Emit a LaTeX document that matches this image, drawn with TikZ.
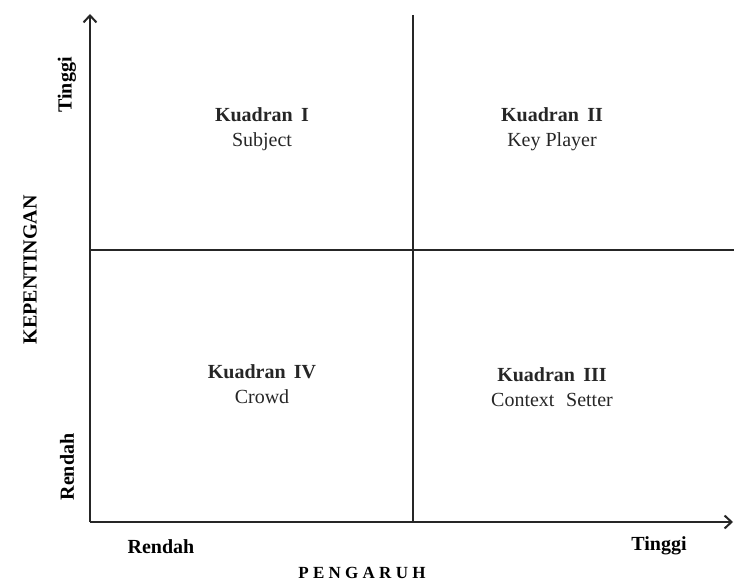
\documentclass[tikz,border=0pt]{standalone}
\usepackage{fontspec}
\setmainfont{Liberation Serif}
\usetikzlibrary{arrows.meta}
\tikzset{
  axis/.style={draw=black!85, line width=2.2pt, -{Straight Barb[length=7pt,width=13pt,line width=2pt]}},
  divider/.style={draw=black!85, line width=2.2pt},
  lbl/.style={font=\fontsize{20}{22}\selectfont\bfseries, inner sep=0pt},
  quad/.style={align=center, font=\fontsize{20}{25}\selectfont, text=black!85, inner sep=0pt}
}
\begin{document}
\begin{tikzpicture}[x=1pt,y=-1pt]
\useasboundingbox (0,0) rectangle (734,583);
\coordinate (O) at (90,522);
\coordinate (ytop) at (90,14);
\coordinate (xend) at (733,522);
\coordinate (vtop) at (413,15);
\coordinate (vbot) at (413,522);
\coordinate (hl) at (90,250);
\coordinate (hr) at (734,250);
\draw[axis] (O) -- (ytop);
\draw[axis] (O) -- (xend);
\draw[divider] (vtop) -- (vbot);
\draw[divider] (hl) -- (hr);
\node[quad] (q1) at (262,129) {\textbf{Kuadran\, I}\\Subject};
\node[quad] (q2) at (552,129) {\textbf{Kuadran\, II}\\Key Player};
\node[quad] (q4) at (262,384) {\textbf{Kuadran\, IV}\\Crowd};
\node[quad] (q3) at (552,387) {\textbf{Kuadran\, III}\\Context\,\, Setter};
\node[lbl, rotate=90] (yt) at (67,85) {Tinggi};
\node[lbl, rotate=90] (yr) at (67,467) {Rendah};
\node[lbl, rotate=90] (ylab) at (30,270) {KEPENTINGAN};
\node[lbl] (xr) at (161,547) {Rendah};
\node[lbl] (xt) at (659,546) {Tinggi};
\node[lbl, font=\fontsize{17}{19}\selectfont\bfseries\addfontfeatures{LetterSpace=25}] (xlab) at (362,573) {PENGARUH};
\end{tikzpicture}
\end{document}
